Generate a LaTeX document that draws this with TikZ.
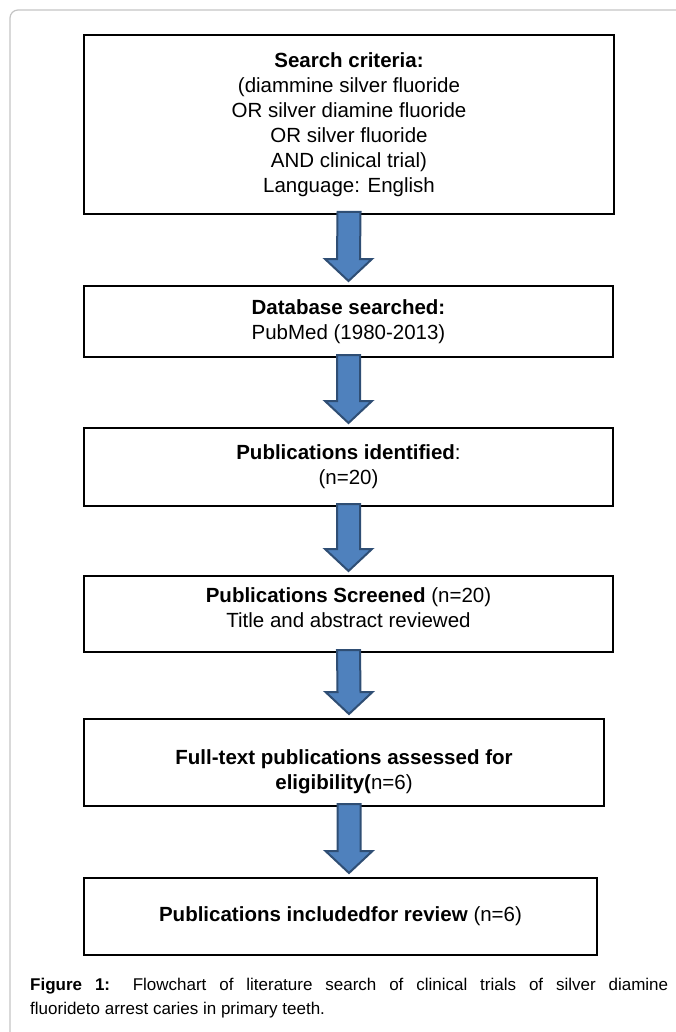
\documentclass[tikz,border=0pt]{standalone}
\usepackage{fontspec}
\setmainfont{Liberation Sans}
\usetikzlibrary{positioning,calc}
\definecolor{arrowfill}{HTML}{4F81BD}
\definecolor{arrowedge}{HTML}{2F4E74}
\definecolor{framegray}{HTML}{C4C4C4}
\tikzset{
  box/.style={draw, line width=1.6pt, align=center, inner sep=0pt, outer sep=0pt,
    font=\fontsize{20.5}{25}\selectfont},
  bigarrow/.style={draw=arrowedge, fill=arrowfill, line width=2pt, line join=miter,
    to path={($(\tikztostart)+(-11.5,2)$) -- ($(\tikztostart)+(11.5,2)$)
      -- ($(\tikztotarget)+(11.5,27)$) -- ($(\tikztotarget)+(23.5,27)$)
      -- ($(\tikztotarget)+(0,5)$) -- ($(\tikztotarget)+(-23.5,27)$)
      -- ($(\tikztotarget)+(-11.5,27)$) -- cycle}},
  caption/.style={align=justify, inner sep=0pt, text width=638pt,
    font=\fontsize{17}{24}\selectfont}
}
\begin{document}
\begin{tikzpicture}[x=1pt, y=1pt]
        \useasboundingbox (0,0) rectangle (676,-1032);
        \draw[framegray, line width=1.2pt, rounded corners=8pt] (10,-1032) -- (10,-10) -- (676,-10);
        \node(A1) [box, anchor=north west, minimum width=530pt, minimum height=179pt] at (84,-35)
            {\textbf{Search criteria:}\\(diammine silver fluoride\\OR silver diamine fluoride\\OR silver fluoride\\AND clinical trial)\\Language: English};
        \node(A2) [box, below=72pt of A1.south west, anchor=north west, minimum width=529pt, minimum height=71pt]
            {\textbf{Database searched:}\\PubMed (1980-2013)};
        \node(A3) [box, below=71pt of A2.south west, anchor=north west, minimum width=529pt, minimum height=78pt]
            {\textbf{Publications identified}:\\(n=20)};
        \node(A4) [box, below=70pt of A3.south west, anchor=north west, minimum width=529pt, minimum height=76pt]
            {\textbf{Publications Screened} (n=20)\\Title and abstract reviewed\\[-13pt]};
        \node(A5) [box, below=67pt of A4.south west, anchor=north west, minimum width=520pt, minimum height=87pt]
            {\rule{0pt}{34pt}\textbf{Full-text publications assessed for}\\\textbf{eligibility(}n=6)};
        \node(A6) [box, below=72pt of A5.south west, anchor=north west, minimum width=513pt, minimum height=77pt]
            {\textbf{Publications includedfor review} (n=6)};
        \node(cap) [caption, anchor=north west] at (30,-978)
            {\textbf{Figure 1:} Flowchart of literature search of clinical trials of silver diamine\linebreak fluorideto arrest caries in primary teeth.};
        \path[bigarrow] (A1.south) to (A2.north);
        \path[bigarrow] (A2.south) to (A3.north);
        \path[bigarrow] (A3.south) to (A4.north);
        \path[bigarrow] (A4.south) to (A5.north -| A1.south);
        \path[bigarrow] (A5.south -| A1.south) to (A6.north -| A1.south);
    \end{tikzpicture}
\end{document}
